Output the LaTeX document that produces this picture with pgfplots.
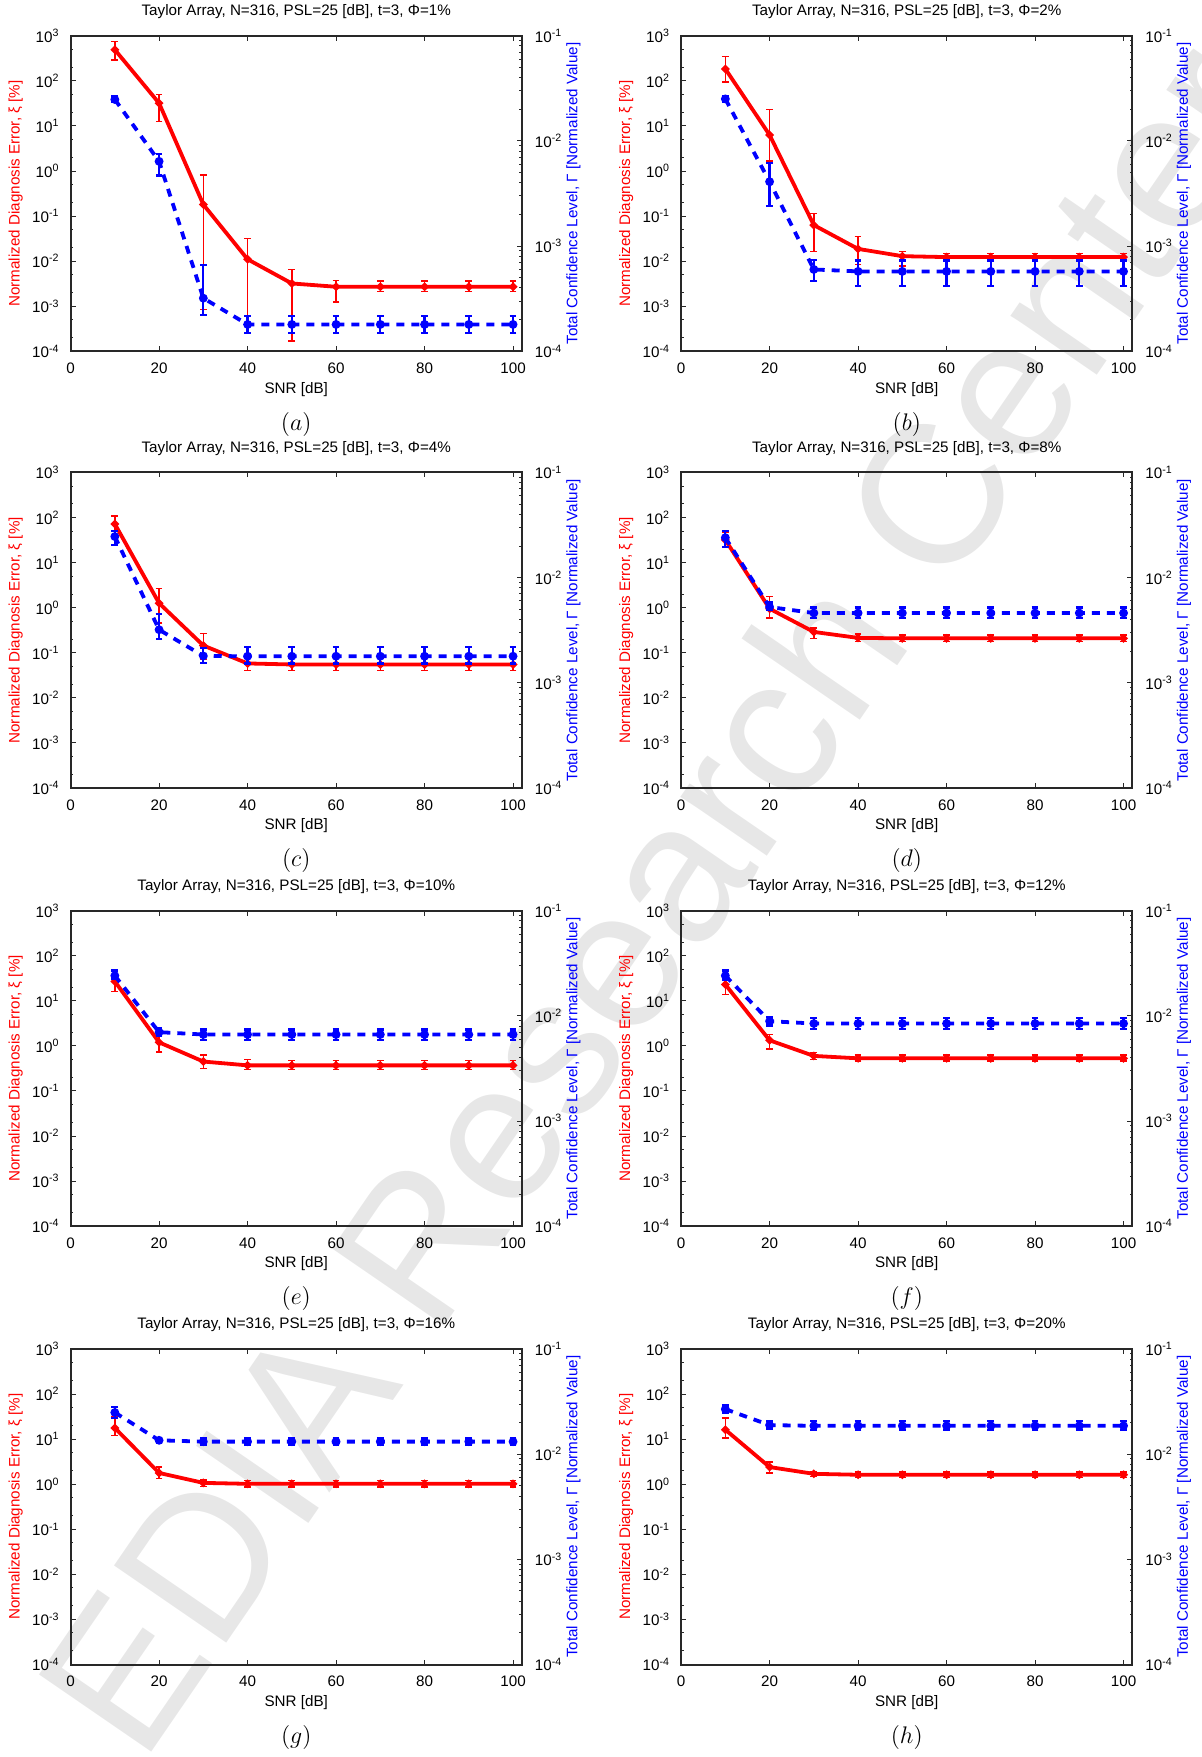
\documentclass[border=0pt]{standalone}
\usepackage[no-math]{fontspec}
\setmainfont{Liberation Sans}
\usepackage{pgfplots}
\usepackage{pgfplotstable}
\pgfplotsset{compat=1.18}

\definecolor{axgray}{RGB}{40,40,40}
\definecolor{wmark}{RGB}{231,231,231}

% columns: SNR, red (xi) value/upper/lower, blue (Gamma) value/upper/lower
\pgfplotstableread{
x r rhi rlo b bhi blo
10 490 745 290 0.0248 0.0265 0.0234
20 32 50 12.5 0.0064 0.0075 0.0047
30 0.18 0.81 0.00085 0.00032 0.00066 0.00022
40 0.011 0.032 0.00026 0.00018 0.000216 0.000148
50 0.0032 0.0065 0.00017 0.00018 0.000216 0.000148
60 0.0027 0.0037 0.00125 0.00018 0.000216 0.000148
70 0.0027 0.0036 0.0021 0.00018 0.000216 0.000148
80 0.0027 0.0036 0.0021 0.00018 0.000216 0.000148
90 0.0027 0.0036 0.0021 0.00018 0.000216 0.000148
100 0.0027 0.0036 0.0021 0.00018 0.000216 0.000148
}\dataA
\pgfplotstableread{
x r rhi rlo b bhi blo
10 184 345 94 0.0251 0.0265 0.0234
20 6.3 23.5 1.66 0.0041 0.0062 0.0024
30 0.063 0.115 0.0166 0.00060 0.00074 0.00047
40 0.0187 0.035 0.0085 0.000575 0.00073 0.00042
50 0.0129 0.0166 0.0078 0.000575 0.00073 0.00042
60 0.0123 0.0149 0.0101 0.000575 0.00073 0.00042
70 0.0123 0.0149 0.0101 0.000575 0.00073 0.00042
80 0.0123 0.0149 0.0101 0.000575 0.00073 0.00042
90 0.0123 0.0149 0.0101 0.000575 0.00073 0.00042
100 0.0123 0.0149 0.0101 0.000575 0.00073 0.00042
}\dataB
\pgfplotstableread{
x r rhi rlo b bhi blo
10 72 108 49 0.0246 0.0280 0.0206
20 1.26 2.7 0.46 0.0032 0.0045 0.0026
30 0.145 0.27 0.071 0.0018 0.00215 0.00155
40 0.058 0.076 0.041 0.00179 0.0022 0.00153
50 0.055 0.075 0.041 0.00179 0.0022 0.00153
60 0.055 0.075 0.041 0.00179 0.0022 0.00153
70 0.055 0.075 0.041 0.00179 0.0022 0.00153
80 0.055 0.075 0.041 0.00179 0.0022 0.00153
90 0.055 0.075 0.041 0.00179 0.0022 0.00153
100 0.055 0.075 0.041 0.00179 0.0022 0.00153
}\dataC
\pgfplotstableread{
x r rhi rlo b bhi blo
10 32 47 23 0.024 0.028 0.0195
20 0.95 1.78 0.59 0.00526 0.0058 0.0049
30 0.29 0.355 0.21 0.00461 0.0052 0.0041
40 0.214 0.26 0.18 0.00461 0.0052 0.0041
50 0.209 0.25 0.18 0.00461 0.0052 0.0041
60 0.209 0.25 0.18 0.00461 0.0052 0.0041
70 0.209 0.25 0.18 0.00461 0.0052 0.0041
80 0.209 0.25 0.18 0.00461 0.0052 0.0041
90 0.209 0.25 0.18 0.00461 0.0052 0.0041
100 0.209 0.25 0.18 0.00461 0.0052 0.0041
}\dataD
\pgfplotstableread{
x r rhi rlo b bhi blo
10 27 48 16 0.0241 0.027 0.0225
20 1.2 2.4 0.74 0.0070 0.0076 0.0064
30 0.45 0.63 0.32 0.00665 0.00743 0.0059
40 0.37 0.5 0.3 0.00665 0.00743 0.0059
50 0.37 0.47 0.3 0.00665 0.00743 0.0059
60 0.37 0.47 0.3 0.00665 0.00743 0.0059
70 0.37 0.47 0.3 0.00665 0.00743 0.0059
80 0.37 0.47 0.3 0.00665 0.00743 0.0059
90 0.37 0.47 0.3 0.00665 0.00743 0.0059
100 0.37 0.47 0.3 0.00665 0.00743 0.0059
}\dataE
\pgfplotstableread{
x r rhi rlo b bhi blo
10 23 34 13.8 0.0241 0.0270 0.0221
20 1.33 1.8 0.85 0.0089 0.0098 0.0081
30 0.6 0.71 0.5 0.00846 0.0096 0.0075
40 0.53 0.63 0.46 0.00846 0.0096 0.0075
50 0.53 0.63 0.46 0.00846 0.0096 0.0075
60 0.53 0.63 0.46 0.00846 0.0096 0.0075
70 0.53 0.63 0.46 0.00846 0.0096 0.0075
80 0.53 0.63 0.46 0.00846 0.0096 0.0075
90 0.53 0.63 0.46 0.00846 0.0096 0.0075
100 0.53 0.63 0.46 0.00846 0.0096 0.0075
}\dataF
\pgfplotstableread{
x r rhi rlo b bhi blo
10 17.7 31.6 12 0.0249 0.0281 0.0221
20 1.78 2.4 1.32 0.01355 0.0142 0.0127
30 1.07 1.25 0.9 0.01316 0.0141 0.0123
40 1.02 1.22 0.86 0.01316 0.0141 0.0123
50 1.02 1.22 0.86 0.01316 0.0141 0.0123
60 1.02 1.22 0.86 0.01316 0.0141 0.0123
70 1.02 1.22 0.86 0.01316 0.0141 0.0123
80 1.02 1.22 0.86 0.01316 0.0141 0.0123
90 1.02 1.22 0.86 0.01316 0.0141 0.0123
100 1.02 1.22 0.86 0.01316 0.0141 0.0123
}\dataG
\pgfplotstableread{
x r rhi rlo b bhi blo
10 16.2 29.4 10.6 0.0268 0.029 0.0247
20 2.4 3.1 1.78 0.0189 0.0205 0.0175
30 1.7 1.9 1.47 0.0186 0.0205 0.0169
40 1.62 1.88 1.40 0.0186 0.0205 0.0169
50 1.62 1.88 1.40 0.0186 0.0205 0.0169
60 1.62 1.88 1.40 0.0186 0.0205 0.0169
70 1.62 1.88 1.40 0.0186 0.0205 0.0169
80 1.62 1.88 1.40 0.0186 0.0205 0.0169
90 1.62 1.88 1.40 0.0186 0.0205 0.0169
100 1.62 1.88 1.40 0.0186 0.0205 0.0169
}\dataH

\newcommand{\panel}[5]{%
  \begin{axis}[name=ax#5, anchor=south west, at={(#1,#2)},
      scale only axis, width=225.65pt, height=157.75pt,
      xmin=0, xmax=102, ymode=log, ymin=1e-4, ymax=1e3,
      tick align=inside,
      font=\fontsize{7.6}{9}\selectfont,
      axis line style={axgray, line width=1pt},
      every tick/.style={axgray, line width=0.5pt},
      major tick length=2.5pt, minor tick length=1.3pt,
      xtick={0,20,40,60,80,100}, xtick pos=both,
      xticklabels={0,20,40,60,80,100},
      xticklabel style={yshift=-2.3pt},
      ytick={1e-4,1e-3,1e-2,1e-1,1,10,100,1000},
      yticklabels={10\textsuperscript{-4},10\textsuperscript{-3},10\textsuperscript{-2},10\textsuperscript{-1},10\textsuperscript{0},10\textsuperscript{1},10\textsuperscript{2},10\textsuperscript{3}},
      minor ytick={2e-4,5e-4,2e-3,5e-3,2e-2,5e-2,0.2,0.5,2,5,20,50,200,500},
      ytick pos=left, yticklabel style={xshift=-2pt},
      xlabel={SNR [dB]},
      xlabel style={at={(axis description cs:0.5,-0.1198)}, anchor=center},
      ylabel={Normalized Diagnosis Error, ξ [\%]},
      ylabel style={red, at={(axis description cs:-0.1219,0.5)}, anchor=center},
      every axis title/.style={at={(axis description cs:0.5,1.0761)}, anchor=center},
      title={Taylor Array, N=316, PSL=25 [dB], t=3, Φ=#3\%}]
    \addplot[red, line width=1.9pt, mark=*, mark size=0.9pt,
      error bars/y dir=both, error bars/y explicit,
      error bars/error bar style={red, line width=0.7pt},
      error bars/error mark options={red, line width=0.7pt, mark size=1.7pt, rotate=90}]
      table[x=x, y=r,
      y error plus expr=\thisrow{rhi}-\thisrow{r},
      y error minus expr=\thisrow{r}-\thisrow{rlo}] {#4};
  \end{axis}
  \begin{axis}[anchor=south west, at={(#1,#2)},
      scale only axis, width=225.65pt, height=157.75pt,
      xmin=0, xmax=102, ymode=log, ymin=1e-4, ymax=1e-1,
      tick align=inside,
      font=\fontsize{7.6}{9}\selectfont,
      axis line style={axgray, line width=1pt},
      every tick/.style={axgray, line width=0.5pt},
      major tick length=2.5pt, minor tick length=1.3pt,
      axis x line=none, axis y line*=right, ytick pos=right,
      ytick={1e-4,1e-3,1e-2,1e-1},
      yticklabels={10\textsuperscript{-4},10\textsuperscript{-3},10\textsuperscript{-2},10\textsuperscript{-1}},
      minor ytick={2e-4,3e-4,4e-4,5e-4,6e-4,7e-4,8e-4,9e-4,
        2e-3,3e-3,4e-3,5e-3,6e-3,7e-3,8e-3,9e-3,
        2e-2,3e-2,4e-2,5e-2,6e-2,7e-2,8e-2,9e-2},
      yticklabel style={xshift=3pt},
      ylabel={Total Confidence Level, Γ [Normalized Value]},
      ylabel style={blue, at={(axis description cs:1.1143,0.5)}, anchor=center}]
    \addplot[blue, line width=1.9pt, dash pattern=on 4pt off 3.5pt,
      mark=*, mark size=1.2pt, mark options={solid},
      error bars/y dir=both, error bars/y explicit,
      error bars/error bar style={blue, solid, line width=1.1pt},
      error bars/error mark options={blue, solid, line width=1.1pt, mark size=1.7pt, rotate=90}]
      table[x=x, y=b,
      y error plus expr=\thisrow{bhi}-\thisrow{b},
      y error minus expr=\thisrow{b}-\thisrow{blo}] {#4};
  \end{axis}
  \node[font=\fontsize{12}{14}\selectfont] at ([yshift=-36.4pt]ax#5.south) {$(#5)$};
}

\begin{document}
\begin{tikzpicture}
\useasboundingbox (0,0) rectangle (601pt,878.5pt);
\begin{scope}
  \clip (0,0) rectangle (601pt,878.5pt);
  \node[rotate=55.5, text=wmark, font=\fontsize{99}{99}\selectfont, inner sep=0pt]
    at (293pt,381pt) {ELEDIA Research Center};
\end{scope}
\panel{35.3pt}{702.85pt}{1}{\dataA}{a}
\panel{340.55pt}{702.85pt}{2}{\dataB}{b}
\panel{35.3pt}{484.5pt}{4}{\dataC}{c}
\panel{340.55pt}{484.5pt}{8}{\dataD}{d}
\panel{35.3pt}{265.4pt}{10}{\dataE}{e}
\panel{340.55pt}{265.4pt}{12}{\dataF}{f}
\panel{35.3pt}{46.25pt}{16}{\dataG}{g}
\panel{340.55pt}{46.25pt}{20}{\dataH}{h}
\end{tikzpicture}
\end{document}
